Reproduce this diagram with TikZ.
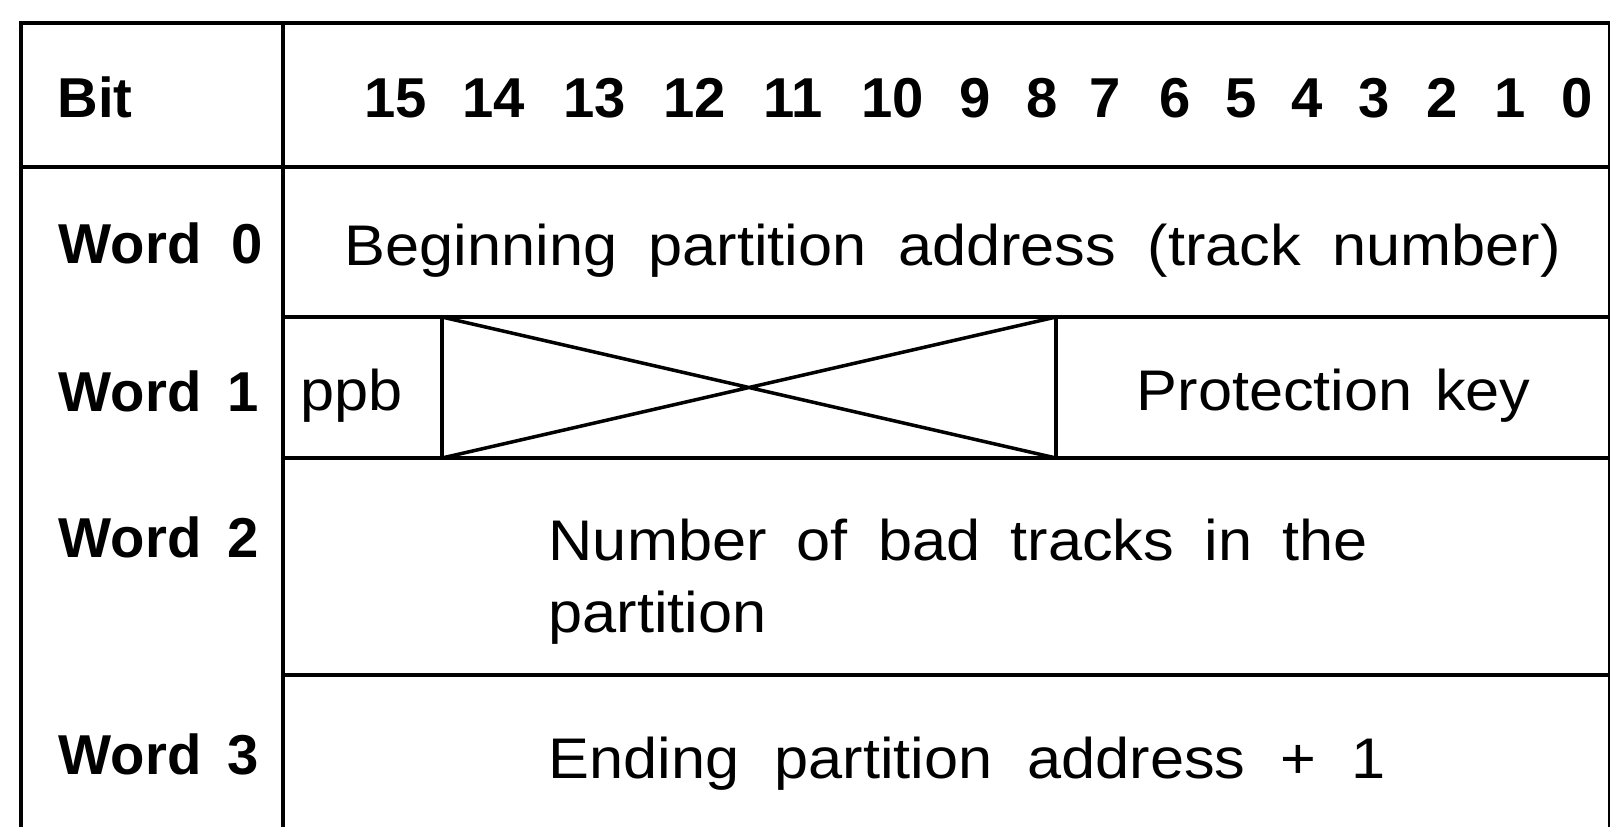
\documentclass[tikz,border=0pt]{standalone}
\usepackage{fontspec}
\setmainfont{Liberation Sans}
\newfontfamily\bodyfont{Liberation Sans}[FakeStretch=1.07]
\newcommand{\fieldfill}[2]{\makebox[#1][s]{#2}}
\tikzset{
	gridline/.style={black, line width=1pt},
	bitlabel/.style={font=\fontsize{16}{19}\selectfont\bfseries, inner sep=0pt, anchor=base west},
	bitnum/.style={font=\fontsize{16}{19}\selectfont\bfseries, inner sep=0pt, anchor=base},
	fieldtext/.style={font=\bodyfont\fontsize{16.3}{19}\selectfont, inner sep=0pt, anchor=base west}
}

\begin{document}
\begin{tikzpicture}
			\useasboundingbox (0,0) rectangle (16.1,-8.27);
			\draw [gridline] (0.21,-8.27) -- (0.21,-0.23) -- (16.1,-0.23);
			\draw [gridline] (16.1,-0.23) -- (16.1,-8.27);
			\draw [gridline] (2.83,-0.23) -- (2.83,-8.27);
			\draw [gridline] (0.21,-1.67) -- (16.1,-1.67);
			\draw [gridline] (2.83,-3.17) -- (16.1,-3.17);
			\draw [gridline] (2.83,-4.58) -- (16.1,-4.58);
			\draw [gridline] (2.83,-6.75) -- (16.1,-6.75);
			
			\coordinate (xnw) at (4.42,-3.17);
			\coordinate (xne) at (10.56,-3.17);
			\coordinate (xsw) at (4.42,-4.58);
			\coordinate (xse) at (10.56,-4.58);
			\draw [gridline] (xnw) -- (xsw) (xne) -- (xse);
			\draw [gridline] (xnw) -- (xse) (xsw) -- (xne);
			
			\node[bitlabel] (bit) at (0.57,-1.17) {Bit};
			\foreach \n/\x in {15/3.96,14/4.94,13/5.95,12/6.95,11/7.93,10/8.93,9/9.75,8/10.42,7/11.05,6/11.75,5/12.41,4/13.07,3/13.74,2/14.42,1/15.10,0/15.77}
				\node[bitnum] (b\n) at (\x,-1.17) {\n};
			
			\node[bitlabel] (word0) at (0.58,-2.63) {\fieldfill{2.04cm}{Word 0}};
			\node[bitlabel] (word1) at (0.58,-4.11) {\fieldfill{2.0cm}{Word 1}};
			\node[bitlabel] (word2) at (0.58,-5.57) {\fieldfill{2.0cm}{Word 2}};
			\node[bitlabel] (word3) at (0.58,-7.74) {\fieldfill{2.0cm}{Word 3}};
			
			\node[fieldtext] (begin) at (3.44,-2.65) {\fieldfill{12.16cm}{Beginning partition address (track number)}};
			\node[fieldtext] (ppb) at (3.00,-4.10) {ppb};
			\node[fieldtext] (key) at (11.36,-4.10) {\fieldfill{3.94cm}{Protection key}};
			\node[fieldtext] (bad) at (5.48,-5.60) {\fieldfill{8.19cm}{Number of bad tracks in the}};
			\node[fieldtext] (badrest) at (5.48,-6.32) {partition};
			\node[fieldtext] (ending) at (5.48,-7.78) {\fieldfill{8.37cm}{Ending partition address + 1}};
		\end{tikzpicture}
\end{document}
